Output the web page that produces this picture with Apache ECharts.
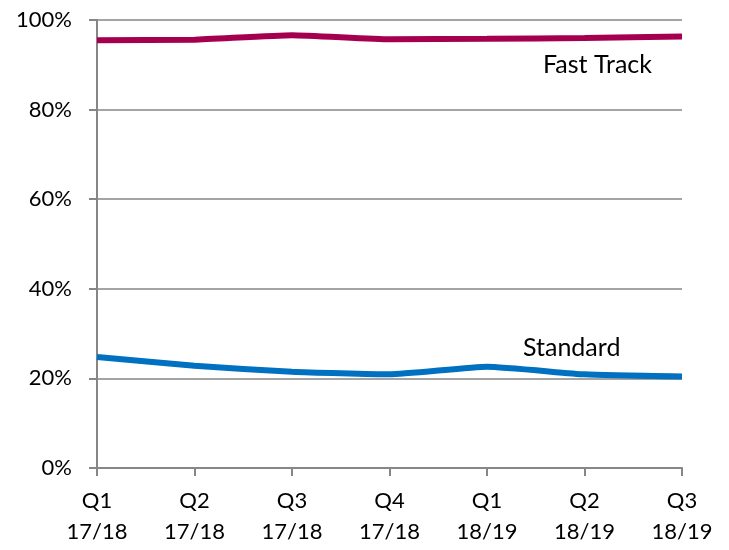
<!DOCTYPE html>
<html>
<head>
<meta charset="utf-8">
<script src="https://cdn.jsdelivr.net/npm/echarts@6/dist/echarts.min.js"></script>
<style>
  html, body { margin: 0; padding: 0; background: #fff; }
  #chart { width: 729px; height: 550px; }
</style>
</head>
<body>
<div id="chart"></div>
<script>
const quarters = ["Q1\n17/18", "Q2\n17/18", "Q3\n17/18", "Q4\n17/18", "Q1\n18/19", "Q2\n18/19", "Q3\n18/19"];
const fastTrack = [95.5, 95.6, 96.6, 95.7, 95.8, 96.0, 96.3];
const standard = [24.8, 22.8, 21.5, 20.9, 22.6, 20.9, 20.4];

const chart = echarts.init(document.getElementById("chart"));
const font = "Lato, 'Liberation Sans', sans-serif";

chart.setOption({
  animation: false,
  grid: { left: 97, right: 47, top: 20, bottom: 82 },
  xAxis: {
    type: "category",
    data: quarters,
    boundaryGap: false,
    axisLine: { lineStyle: { color: "#868686", width: 2 } },
    axisTick: { alignWithLabel: true, length: 8, lineStyle: { color: "#868686", width: 2 } },
    axisLabel: {
      interval: 0,
      color: "#000",
      fontSize: 22,
      lineHeight: 31,
      margin: 17,
      fontFamily: font
    }
  },
  yAxis: {
    type: "value",
    min: 0,
    max: 100,
    interval: 20,
    axisLine: { show: true, lineStyle: { color: "#868686", width: 2 } },
    axisTick: { show: true, length: 8, lineStyle: { color: "#868686", width: 2 } },
    splitLine: { lineStyle: { color: "#868686", width: 1.5 } },
    axisLabel: {
      formatter: "{value}%",
      color: "#000",
      fontSize: 22,
      margin: 25,
      fontFamily: font
    }
  },
  series: [
    {
      name: "Fast Track",
      type: "line",
      data: fastTrack,
      showSymbol: false,
      smooth: 0.15,
      lineStyle: { color: "#A50050", width: 6 },
      z: 3
    },
    {
      name: "Standard",
      type: "line",
      data: standard,
      showSymbol: false,
      smooth: 0.15,
      lineStyle: { color: "#0070C0", width: 6 },
      z: 3
    }
  ],
  graphic: [
    {
      type: "text",
      left: 543,
      top: 52,
      style: { text: "Fast Track", fill: "#000", font: "25px " + font }
    },
    {
      type: "text",
      left: 523,
      top: 335,
      style: { text: "Standard", fill: "#000", font: "25px " + font }
    }
  ]
});
</script>
</body>
</html>
